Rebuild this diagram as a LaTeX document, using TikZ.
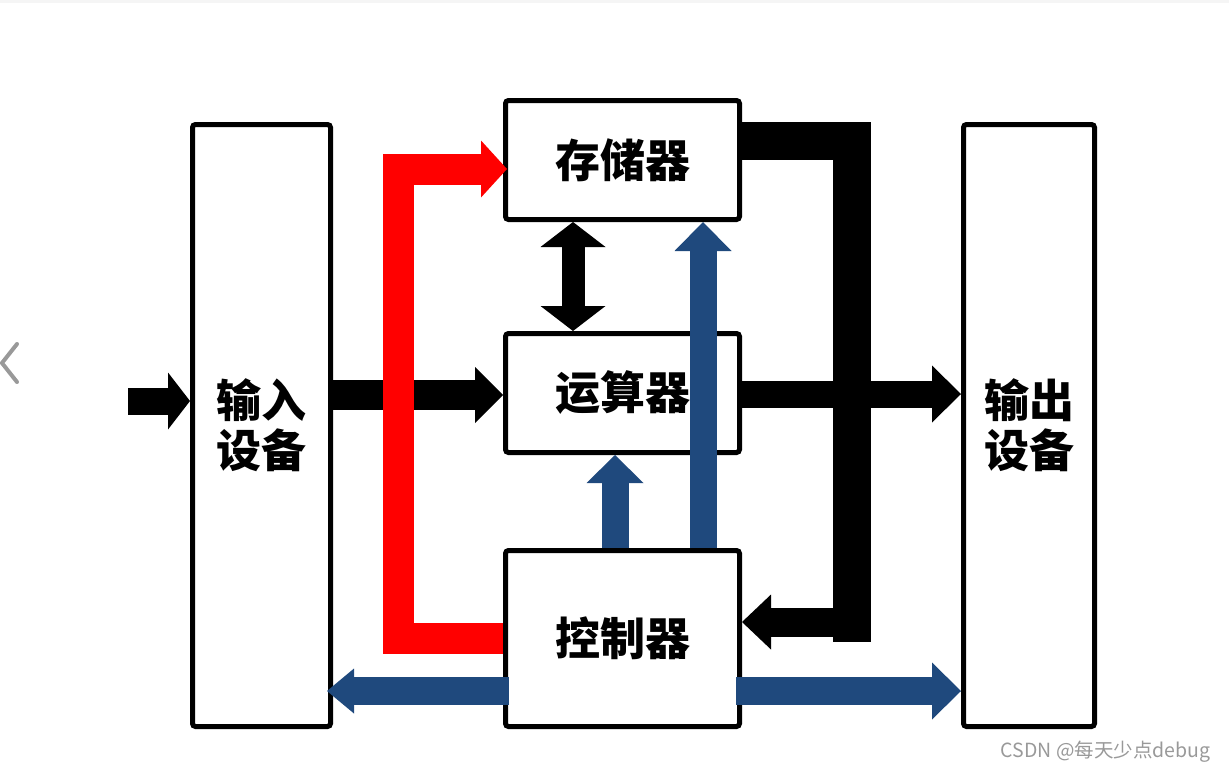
\documentclass[tikz,border=0pt]{standalone}
\usepackage{fontspec}
\newfontfamily\cjk{Noto Sans CJK SC}
\usetikzlibrary{arrows.meta}
\usetikzlibrary{calc}
\definecolor{flowblue}{RGB}{31,73,125}
\definecolor{flowred}{RGB}{255,0,0}

\begin{document}
\begin{tikzpicture}[x=1pt,y=-1pt,
		unit/.style={draw, line width=5pt, rounded corners=3pt, inner sep=0pt, align=center,
			font=\cjk\bfseries\fontsize{45}{50}\selectfont},
		flow/.style={line width=#1, line join=miter},
		bigtip/.style 2 args={-{Triangle[length=#1,width=#2,line width=0pt]}}]
		\useasboundingbox (0,0) rectangle (1229,771);
		\fill[black!4] (0,0) rectangle (1229,3);
		\draw[black!40, line width=4pt, line cap=round] (17,344) -- (2,363) -- (17,382);

		\path 	(261.5,425.5)	node[unit, minimum width=138, minimum height=602] (inp) {输入\\设备}
			(622.5,160)	node[unit, minimum width=234, minimum height=119] (mem) {存储器}
			(622.5,393)	node[unit, minimum width=234, minimum height=119] (alu) {运算器}
			(622.5,638.5)	node[unit, minimum width=234, minimum height=176] (ctl) {控制器}
			(1029,425.5)	node[unit, minimum width=131, minimum height=602] (out) {输出\\设备};
		\coordinate (src) at (128,401);
		\coordinate (drop) at (852,642);
		\coordinate (ret) at (833,622);
		\coordinate (bend) at (398,169);

		% data
		\draw[flow=27pt, bigtip={22pt}{57pt}] (src) -- (inp.west|-src);
		\draw[flow=30pt, bigtip={28pt}{56pt}] (inp.east|-0,395) -- (alu.west|-0,395);
		\draw[flow=27pt, bigtip={29pt}{57pt}] (alu.east|-0,394) -- (out.west|-0,394);
		\draw[flow=23pt, {Triangle[length=25pt,width=65pt,line width=0pt]}-{Triangle[length=25pt,width=65pt,line width=0pt]}]
			($(mem.south)+(-49.5,0)$) -- ($(alu.north)+(-49.5,0)$);
		\draw[flow=38pt] ($(mem.east)+(0,-19)$) -| (drop);
		\draw[flow=29pt, bigtip={29pt}{55pt}] (ret) -- (ctl.east|-ret);

		% instructions
		\draw[flowred, flow=31pt, bigtip={26pt}{57pt}] (ctl.west) -| (bend) -- ($(mem.west|-bend)+(4,0)$);

		% control
		\draw[flowblue, flow=27pt, bigtip={28pt}{57pt}] ($(ctl.north)+(-7.5,0)$) -- ($(alu.south)+(-7.5,0)$);
		\draw[flowblue, flow=27pt, bigtip={29pt}{57pt}] ($(ctl.north)+(80.5,0)$) -- ($(mem.south)+(80.5,0)$);
		\draw[flowblue, flow=28pt, bigtip={27pt}{45pt}] ($(ctl.west|-0,691)+(6,0)$) -- ($(inp.east|-0,691)+(-6,0)$);
		\draw[flowblue, flow=28pt, bigtip={29pt}{57pt}] ($(ctl.east|-0,691)+(-6,0)$) -- (out.west|-0,691);

		\node[anchor=base east, text=black!40, font=\cjk\fontsize{19.5}{22}\selectfont] (mark) at (1214,757) {CSDN @每天少点debug};
	\end{tikzpicture}
\end{document}
